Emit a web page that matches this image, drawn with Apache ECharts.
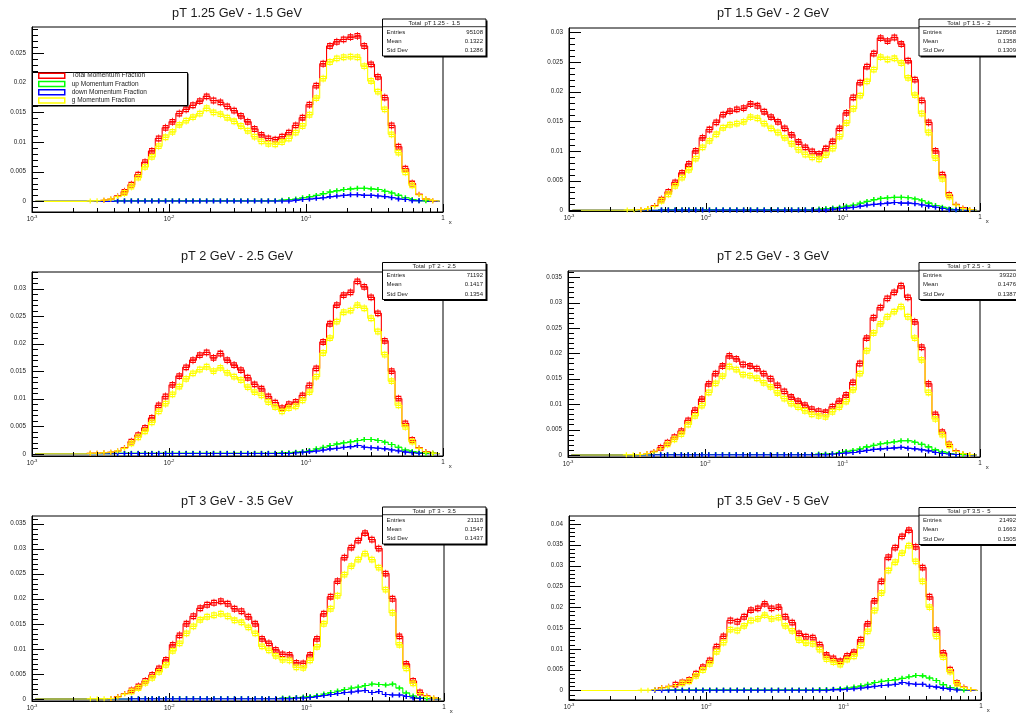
<!DOCTYPE html>
<html><head><meta charset="utf-8">
<script src="https://cdn.jsdelivr.net/npm/echarts@6/dist/echarts.min.js"></script>
<style>html,body{margin:0;padding:0;background:#fff}#c{width:1016px;height:715px}</style>
</head><body><div id="c"></div>
<script>
// ---------------- data ----------------
const NBINS = 60, XMIN = 0.001, XMAX = 1;
const seriesNames = ['Total Momentum Fraction', 'up Momentum Fraction', 'down Momentum Fraction', 'g Momentum Fraction'];
const titles = ['pT 1.25 GeV - 1.5 GeV', 'pT 1.5 GeV - 2 GeV', 'pT 2 GeV - 2.5 GeV', 'pT 2.5 GeV - 3 GeV', 'pT 3 GeV - 3.5 GeV', 'pT 3.5 GeV - 5 GeV'];
const statTitles = ['Total  pT 1.25 -  1.5', 'Total  pT 1.5 -  2', 'Total  pT 2 -  2.5', 'Total  pT 2.5 -  3', 'Total  pT 3 -  3.5', 'Total  pT 3.5 -  5'];
const entries = ['95108', '128568', '71192', '39320', '21118', '21492'];
const means = ['0.1322', '0.1358', '0.1417', '0.1476', '0.1547', '0.1663'];
const stdDevs = ['0.1286', '0.1309', '0.1354', '0.1387', '0.1437', '0.1505'];
const yTicks1 = [0, 0.005, 0.01, 0.015, 0.02, 0.025];
const yTicks2 = [0, 0.005, 0.01, 0.015, 0.02, 0.025, 0.03];
const yTicks3 = [0, 0.005, 0.01, 0.015, 0.02, 0.025, 0.03];
const yTicks4 = [0, 0.005, 0.01, 0.015, 0.02, 0.025, 0.03, 0.035];
const yTicks5 = [0, 0.005, 0.01, 0.015, 0.02, 0.025, 0.03, 0.035];
const yTicks6 = [0, 0.005, 0.01, 0.015, 0.02, 0.025, 0.03, 0.035, 0.04];

const total1 = [0,0,0,0,0,0,0,0,0,0,
 .0002,.0004,.0009,.0016,.0028,.0045,.0066,.0085,.0106,.0124,
 .0134,.0148,.0155,.0162,.0169,.0177,.0170,.0167,.0160,.0153,
 .0144,.0134,.0122,.0112,.0106,.0104,.0109,.0116,.0128,.0141,
 .0163,.0195,.0232,.0262,.0269,.0273,.0277,.0279,.0262,.0231,
 .0210,.0175,.0128,.0092,.0055,.0030,.0012,.0004,.0001,0];
const g1 = [0,0,0,0,0,0,0,0,.00005,.0001,
 .0002,.0004,.0008,.0014,.0025,.0040,.0058,.0075,.0093,.0108,
 .0117,.0129,.0136,.0142,.0148,.0157,.0150,.0147,.0141,.0135,
 .0127,.0119,.0109,.0101,.0097,.0096,.0100,.0106,.0116,.0127,
 .0146,.0174,.0207,.0235,.0241,.0243,.0244,.0243,.0228,.0203,
 .0185,.0155,.0113,.0082,.0049,.0027,.0011,.0004,.0001,0];
const up1 = [0,0,0,0,0,0,0,0,0,0,
 0,0,.0001,.0001,.0001,.0001,.0001,.0001,.0001,.0001,
 .0001,.0001,.0001,.0001,.0001,.0001,.0001,.0001,.0001,.0001,
 .0001,.0001,.0001,.0001,.0001,.0001,.0002,.0003,.0004,.0006,
 .0008,.0010,.0013,.0016,.0018,.0020,.0021,.0022,.0022,.0021,
 .0020,.0017,.0014,.0010,.0006,.0003,.0001,.0001,0,0];
const down1 = [0,0,0,0,0,0,0,0,0,0,
 0,0,.00005,.00005,.00005,.00005,.00005,.00005,.00005,.00005,
 .00005,.00005,.00005,.00005,.00005,.00005,.00005,.00005,.00005,.00005,
 .00005,.00005,.00005,.00005,.00005,.00005,.00005,.00005,.0002,.0003,
 .0004,.0005,.0006,.0008,.0009,.0010,.0011,.0011,.0010,.0010,
 .0009,.0008,.0006,.0004,.0003,.0001,.0001,0,0,0];

const total2 = [0,0,0,0,0,0,0,0,0,0,
 .0001,.0003,.0008,.0018,.0031,.0047,.0063,.0078,.0100,.0122,
 .0136,.0148,.0161,.0167,.0170,.0172,.0179,.0176,.0166,.0157,
 .0149,.0138,.0127,.0115,.0106,.0099,.0095,.0104,.0116,.0138,
 .0164,.0190,.0215,.0242,.0264,.0290,.0285,.0291,.0280,.0252,
 .0220,.0185,.0148,.0100,.0060,.0026,.0010,.0004,.0001,0];
const g2 = [0,0,0,0,0,0,0,0,.00005,.00005,
 .0001,.0003,.0007,.0016,.0027,.0041,.0055,.0068,.0087,.0106,
 .0117,.0128,.0139,.0144,.0146,.0149,.0157,.0155,.0146,.0138,
 .0131,.0122,.0112,.0102,.0094,.0089,.0086,.0093,.0104,.0124,
 .0147,.0171,.0193,.0217,.0237,.0258,.0254,.0256,.0248,.0223,
 .0194,.0163,.0131,.0088,.0053,.0023,.0009,.0003,.0001,0];
const up2 = [0,0,0,0,0,0,0,0,0,0,
 0,0,0,.0001,.0001,.0001,.0001,.0001,.0001,.0001,
 .0001,.0001,.0001,.0001,.0001,.0001,.0001,.0001,.0001,.0001,
 .0001,.0001,.0001,.0001,.0001,.0001,.0002,.0003,.0004,.0005,
 .0007,.0009,.0012,.0015,.0018,.0020,.0021,.0022,.0022,.0021,
 .0019,.0016,.0012,.0008,.0005,.0002,.0001,0,0,0];
const down2 = [0,0,0,0,0,0,0,0,0,0,
 0,0,0,.00005,.00005,.00005,.00005,.00005,.00005,.00005,
 .00005,.00005,.00005,.00005,.00005,.00005,.00005,.00005,.00005,.00005,
 .00005,.00005,.00005,.00005,.00005,.00005,.00005,.00005,.0002,.0003,
 .0004,.0005,.0007,.0009,.0010,.0011,.0012,.0013,.0012,.0012,
 .0011,.0009,.0007,.0005,.0003,.0001,.0001,0,0,0];

const total3 = [0,0,0,0,0,0,0,0,.0001,.0001,
 .0002,.0003,.0005,.0011,.0022,.0034,.0047,.0065,.0088,.0104,
 .0125,.0141,.0157,.0170,.0179,.0184,.0174,.0182,.0170,.0161,
 .0152,.0138,.0126,.0118,.0104,.0093,.0083,.0090,.0094,.0106,
 .0124,.0155,.0203,.0236,.0270,.0288,.0293,.0313,.0303,.0284,
 .0255,.0205,.0150,.0100,.0055,.0025,.0011,.0004,.0001,0];
const g3 = [0,0,0,0,0,0,0,0,.0001,.0001,
 .0002,.0003,.0005,.0010,.0019,.0030,.0041,.0057,.0077,.0091,
 .0108,.0122,.0136,.0146,.0153,.0158,.0150,.0156,.0147,.0140,
 .0134,.0121,.0112,.0106,.0094,.0085,.0077,.0083,.0086,.0097,
 .0112,.0140,.0183,.0210,.0240,.0257,.0260,.0270,.0264,.0246,
 .0222,.0180,.0132,.0088,.0049,.0022,.0010,.0003,.0001,0];
const up3 = [0,0,0,0,0,0,0,0,0,0,
 0,0,.0001,.0001,.0001,.0001,.0001,.0001,.0001,.0001,
 .0001,.0001,.0001,.0001,.0001,.0001,.0001,.0001,.0001,.0001,
 .0001,.0001,.0001,.0001,.0001,.0001,.0002,.0002,.0003,.0004,
 .0006,.0009,.0012,.0015,.0018,.0020,.0022,.0024,.0026,.0026,
 .0024,.0021,.0017,.0012,.0007,.0004,.0002,.0001,.0001,0];
const down3 = [0,0,0,0,0,0,0,0,0,0,
 0,0,.00005,.00005,.00005,.00005,.00005,.00005,.00005,.00005,
 .00005,.00005,.00005,.00005,.00005,.00005,.00005,.00005,.00005,.00005,
 .00005,.00005,.00005,.00005,.00005,.00005,.00005,.00005,.0002,.0003,
 .0004,.0005,.0007,.0009,.0010,.0012,.0013,.0015,.0012,.0011,
 .0010,.0009,.0007,.0005,.0003,.0002,.0001,0,0,0];

const total4 = [0,0,0,0,0,0,0,0,0,0,
 .0001,.0003,.0007,.0014,.0024,.0035,.0047,.0068,.0088,.0110,
 .0140,.0160,.0175,.0195,.0189,.0178,.0175,.0170,.0160,.0150,
 .0137,.0125,.0114,.0106,.0098,.0090,.0086,.0084,.0095,.0106,
 .0118,.0143,.0180,.0230,.0270,.0290,.0308,.0320,.0333,.0310,
 .0262,.0212,.0140,.0080,.0045,.0021,.0008,.0003,.0001,0];
const g4 = [0,0,0,0,0,0,0,0,.00005,.00005,
 .0001,.0003,.0006,.0012,.0021,.0031,.0041,.0060,.0077,.0097,
 .0123,.0141,.0155,.0174,.0168,.0158,.0156,.0151,.0142,.0134,
 .0122,.0111,.0101,.0094,.0087,.0080,.0077,.0075,.0085,.0094,
 .0105,.0128,.0160,.0205,.0240,.0258,.0272,.0282,.0292,.0272,
 .0230,.0187,.0123,.0071,.0040,.0019,.0007,.0003,.0001,0];
const up4 = [0,0,0,0,0,0,0,0,0,0,
 0,0,.0001,.0001,.0001,.0001,.0001,.0001,.0001,.0001,
 .0001,.0001,.0001,.0001,.0001,.0001,.0001,.0001,.0001,.0001,
 .0001,.0001,.0001,.0001,.0001,.0001,.0002,.0002,.0003,.0005,
 .0007,.0009,.0012,.0016,.0019,.0022,.0024,.0026,.0028,.0028,
 .0025,.0021,.0016,.0010,.0006,.0003,.0001,.0001,0,0];
const down4 = [0,0,0,0,0,0,0,0,0,0,
 0,0,.00005,.00005,.00005,.00005,.00005,.00005,.00005,.00005,
 .00005,.00005,.00005,.00005,.00005,.00005,.00005,.00005,.00005,.00005,
 .00005,.00005,.00005,.00005,.00005,.00005,.00005,.00005,.0002,.0003,
 .0004,.0005,.0007,.0009,.0011,.0012,.0013,.0014,.0015,.0013,
 .0012,.0010,.0008,.0005,.0003,.0002,.0001,0,0,0];

const total5 = [0,0,0,0,0,0,0,0,0,0,
 0,.0001,.0005,.0011,.0017,.0025,.0036,.0048,.0061,.0078,
 .0108,.0127,.0150,.0165,.0181,.0188,.0192,.0195,.0190,.0180,
 .0175,.0164,.0150,.0120,.0111,.0098,.0089,.0088,.0072,.0071,
 .0088,.0120,.0170,.0204,.0235,.0282,.0302,.0316,.0331,.0318,
 .0300,.0250,.0200,.0125,.0070,.0036,.0013,.0006,.0002,0];
const g5 = [0,0,0,0,0,0,0,0,.00005,.00005,
 .00005,.0001,.0004,.0010,.0015,.0022,.0032,.0042,.0054,.0068,
 .0096,.0111,.0131,.0145,.0158,.0164,.0167,.0170,.0165,.0157,
 .0153,.0143,.0131,.0105,.0097,.0086,.0078,.0077,.0063,.0062,
 .0077,.0104,.0150,.0180,.0206,.0248,.0265,.0278,.0290,.0278,
 .0262,.0218,.0172,.0108,.0061,.0031,.0011,.0005,.0002,0];
const up5 = [0,0,0,0,0,0,0,0,0,0,
 0,0,0,0,.0001,.0001,.0001,.0001,.0001,.0001,
 .0001,.0001,.0001,.0001,.0001,.0001,.0001,.0001,.0001,.0001,
 .0001,.0001,.0001,.0001,.0001,.0001,.0002,.0002,.0003,.0004,
 .0005,.0007,.0010,.0013,.0016,.0019,.0022,.0024,.0027,.0030,
 .0029,.0028,.0030,.0022,.0012,.0006,.0002,.0001,0,0];
const down5 = [0,0,0,0,0,0,0,0,0,0,
 0,0,0,0,.00005,.00005,.00005,.00005,.00005,.00005,
 .00005,.00005,.00005,.00005,.00005,.00005,.00005,.00005,.00005,.00005,
 .00005,.00005,.00005,.00005,.00005,.00005,.00005,.00005,.0002,.0002,
 .0003,.0005,.0007,.0009,.0011,.0013,.0014,.0016,.0017,.0013,
 .0015,.0009,.0008,.0008,.0005,.0002,.0001,0,0,0];

const total6 = [0,0,0,0,0,0,0,0,0,0,
 0,0,.0002,.0007,.0010,.0014,.0019,.0025,.0040,.0056,
 .0072,.0105,.0130,.0168,.0165,.0177,.0193,.0197,.0208,.0197,
 .0200,.0177,.0163,.0137,.0129,.0127,.0110,.0085,.0077,.0070,
 .0083,.0092,.0122,.0160,.0215,.0262,.0320,.0343,.0370,.0385,
 .0345,.0295,.0225,.0145,.0090,.0050,.0018,.0008,.0002,0];
const g6 = [0,0,0,0,0,0,0,0,0,0,
 .00005,.00005,.0002,.0006,.0009,.0012,.0017,.0022,.0035,.0049,
 .0064,.0093,.0115,.0146,.0144,.0155,.0168,.0172,.0181,.0172,
 .0175,.0155,.0143,.0121,.0114,.0112,.0098,.0075,.0068,.0062,
 .0074,.0082,.0108,.0142,.0192,.0234,.0288,.0308,.0330,.0348,
 .0310,.0262,.0200,.0130,.0080,.0045,.0016,.0007,.0002,0];
const up6 = [0,0,0,0,0,0,0,0,0,0,
 0,0,0,0,.0001,.0001,.0001,.0001,.0001,.0001,
 .0001,.0001,.0001,.0001,.0001,.0001,.0001,.0001,.0001,.0001,
 .0001,.0001,.0001,.0001,.0001,.0001,.0002,.0002,.0003,.0004,
 .0006,.0008,.0011,.0015,.0019,.0022,.0024,.0026,.0029,.0033,
 .0036,.0035,.0030,.0024,.0014,.0007,.0003,.0001,0,0];
const down6 = [0,0,0,0,0,0,0,0,0,0,
 0,0,.00005,.00005,.00005,.00005,.00005,.00005,.00005,.00005,
 .00005,.00005,.00005,.00005,.00005,.00005,.00005,.00005,.00005,.00005,
 .00005,.00005,.00005,.00005,.00005,.00005,.00005,.00005,.0002,.0002,
 .0003,.0004,.0006,.0008,.0010,.0012,.0013,.0015,.0019,.0016,
 .0015,.0015,.0010,.0008,.0005,.0003,.0001,0,0,0];

// ---------------- layout ----------------
const totals = [total1, total2, total3, total4, total5, total6];
const gs = [g1, g2, g3, g4, g5, g6];
const ups = [up1, up2, up3, up4, up5, up6];
const downs = [down1, down2, down3, down4, down5, down6];
const yTickLabels = [yTicks1, yTicks2, yTicks3, yTicks4, yTicks5, yTicks6];

const gridRects = [
  {left: 32, top: 27, width: 411, height: 185},
  {left: 569, top: 28, width: 411, height: 183},
  {left: 32, top: 272, width: 411, height: 184},
  {left: 568, top: 271, width: 412, height: 186},
  {left: 32, top: 516, width: 412, height: 185},
  {left: 569, top: 516, width: 412, height: 184}
];
const yRanges = [[-0.0018, 0.0294], [-0.00012, 0.0307], [-0.0004, 0.0330], [-0.0004, 0.0362], [-0.0004, 0.0365], [-0.0023, 0.0419]];
const titlePos = [[237, 13], [773, 13], [237, 256], [773, 256], [237, 501], [773, 501]];
const statPos = [[382.5, 19, 103.5], [919, 19, 100], [382.5, 262.5, 103.5], [919, 262.5, 100], [382.5, 507, 103.5], [919, 507.5, 100]];

const FONT = '"Liberation Sans", Arial, Helvetica, sans-serif';
const colors = {total: '#ff0000', up: '#00ff00', down: '#0000ff', g: '#ffff00'};
const CROSS = 'path://M0,5L10,5M5,0L5,10';
const BOXMARK = 'path://M0,3H8V11H0ZM4,0V14M0,7H8';

const binCenters = [];
for (let i = 0; i < NBINS; i++) binCenters.push(Math.pow(10, Math.log10(XMIN) + (Math.log10(XMAX) - Math.log10(XMIN)) * (i + 0.5) / NBINS));
const xMinor = [];
[0.001, 0.01, 0.1].forEach(d => { for (let m = 2; m <= 9; m++) xMinor.push(m * d); });

function histSeries(name, vals, gi, color, kind) {
  return {
    name, type: 'line', xAxisIndex: gi, yAxisIndex: gi, step: 'middle',
    data: vals.map((v, i) => [binCenters[i], v]),
    symbol: (val) => (val[1] > 0 ? (kind === 'sq' ? (val[1] > 0.0012 ? BOXMARK : CROSS) : CROSS) : 'none'),
    symbolSize: (val) => (kind === 'sq' && val[1] > 0.0012 ? [5, 8] : [7, 5]),
    itemStyle: {color: 'rgba(0,0,0,0)', borderColor: color, borderWidth: kind === 'sq' ? 1 : 1.3},
    lineStyle: {color, width: 1.1},
    emphasis: {disabled: true}, silent: true, animation: false, clip: true
  };
}

const grid = [], xAxis = [], yAxis = [], series = [], title = [], graphic = [];
for (let k = 0; k < 6; k++) {
  const r = gridRects[k];
  const [ymin, ymax] = yRanges[k];
  grid.push(Object.assign({show: true, borderColor: '#000', borderWidth: 1, backgroundColor: 'transparent', containLabel: false}, r));
  xAxis.push({
    type: 'log', logBase: 10, gridIndex: k, min: XMIN, max: XMAX,
    axisLine: {show: true, onZero: false, lineStyle: {color: '#000', width: 1}},
    axisTick: {show: true, inside: true, length: 8, lineStyle: {color: '#000', width: 1}},
    splitLine: {show: false}, minorTick: {show: false},
    axisLabel: {
      margin: 3, color: '#222', fontFamily: FONT, fontSize: 6.3,
      formatter: v => (Math.abs(v - 1) < 1e-9 ? '{b|1}' : '{b|10}{s|' + Math.round(Math.log10(v)) + '}'),
      rich: {b: {fontSize: 6.3, color: '#222', fontFamily: FONT}, s: {fontSize: 4.2, color: '#222', fontFamily: FONT, verticalAlign: 'top', padding: [0, 0, 4, 0]}}
    },
    name: 'x', nameLocation: 'end', nameGap: -3,
    nameTextStyle: {fontSize: 6, color: '#222', fontFamily: FONT, align: 'right', verticalAlign: 'top', padding: [7, 0, 0, 0]}
  });
  yAxis.push({
    type: 'value', gridIndex: k, min: ymin, max: ymax,
    axisLine: {show: true, onZero: false, lineStyle: {color: '#000', width: 1}},
    axisTick: {show: false}, splitLine: {show: false},
    axisLabel: {
      customValues: yTickLabels[k],
      margin: 6, color: '#222', fontFamily: FONT, fontSize: 6.3,
      formatter: v => String(+(+v).toFixed(4))
    }
  });
  series.push(histSeries(seriesNames[0], totals[k], k, colors.total, 'sq'));
  series.push(histSeries(seriesNames[1], ups[k], k, colors.up, 'cross'));
  series.push(histSeries(seriesNames[2], downs[k], k, colors.down, 'cross'));
  series.push(histSeries(seriesNames[3], gs[k], k, colors.g, 'sq'));

  // y ticks (major every 0.005, minor every 0.001), drawn through the axis scale
  const yt = [];
  for (let j = Math.ceil(ymin / 0.001 - 1e-9); j * 0.001 <= ymax + 1e-9; j++) yt.push([XMIN, j * 0.001, j % 5 === 0 ? 1 : 0]);
  series.push({
    type: 'custom', xAxisIndex: k, yAxisIndex: k, silent: true, clip: false, animation: false, z: 5,
    data: yt,
    renderItem: (params, api) => {
      const p = api.coord([api.value(0), api.value(1)]);
      const len = api.value(2) ? 12 : 6;
      const y = Math.round(p[1]) + 0.5;
      return {type: 'line', shape: {x1: p[0], y1: y, x2: p[0] + len, y2: y}, style: {stroke: '#000', lineWidth: 1}};
    }
  });
  // x minor log ticks
  series.push({
    type: 'custom', xAxisIndex: k, yAxisIndex: k, silent: true, clip: false, animation: false, z: 5,
    data: xMinor.map(v => [v, ymin]),
    renderItem: (params, api) => {
      const p = api.coord([api.value(0), api.value(1)]);
      const x = Math.round(p[0]) + 0.5;
      return {type: 'line', shape: {x1: x, y1: p[1], x2: x, y2: p[1] - 4}, style: {stroke: '#000', lineWidth: 1}};
    }
  });

  title.push({
    text: titles[k], left: titlePos[k][0], top: titlePos[k][1], textAlign: 'center', textVerticalAlign: 'middle', padding: 0,
    textStyle: {fontSize: 12.7, fontWeight: 'normal', color: '#1a1a1a', fontFamily: FONT}
  });

  // statistics box
  const [sx, sy, sw] = statPos[k];
  const sh = 37;
  graphic.push(
    {type: 'rect', z: 100, shape: {x: sx + 1.5, y: sy + 1.5, width: sw, height: sh}, style: {fill: '#000'}},
    {type: 'rect', z: 101, shape: {x: sx, y: sy, width: sw, height: sh}, style: {fill: '#fff', stroke: '#000', lineWidth: 1}},
    {type: 'line', z: 102, shape: {x1: sx, y1: sy + 7.7, x2: sx + sw, y2: sy + 7.7}, style: {stroke: '#000', lineWidth: 0.8}},
    {type: 'text', z: 102, x: sx + sw / 2, y: sy + 4, style: {text: statTitles[k], fill: '#222', font: '6px ' + FONT, align: 'center', verticalAlign: 'middle'}},
    {type: 'text', z: 102, x: sx + 4, y: sy + 13.3, style: {text: 'Entries', fill: '#222', font: '6px ' + FONT, align: 'left', verticalAlign: 'middle'}},
    {type: 'text', z: 102, x: sx + sw - 3, y: sy + 13.3, style: {text: entries[k], fill: '#222', font: '6px ' + FONT, align: 'right', verticalAlign: 'middle'}},
    {type: 'text', z: 102, x: sx + 4, y: sy + 22.3, style: {text: 'Mean', fill: '#222', font: '6px ' + FONT, align: 'left', verticalAlign: 'middle'}},
    {type: 'text', z: 102, x: sx + sw - 3, y: sy + 22.3, style: {text: means[k], fill: '#222', font: '6px ' + FONT, align: 'right', verticalAlign: 'middle'}},
    {type: 'text', z: 102, x: sx + 4, y: sy + 31.5, style: {text: 'Std Dev', fill: '#222', font: '6px ' + FONT, align: 'left', verticalAlign: 'middle'}},
    {type: 'text', z: 102, x: sx + sw - 3, y: sy + 31.5, style: {text: stdDevs[k], fill: '#222', font: '6px ' + FONT, align: 'right', verticalAlign: 'middle'}}
  );
}
// legend frame (panel 1)
graphic.push(
  {type: 'rect', z: 99, shape: {x: 33.5, y: 73.5, width: 155, height: 33}, style: {fill: '#000'}},
  {type: 'rect', z: 99.5, shape: {x: 32.5, y: 72.5, width: 155, height: 33}, style: {fill: '#fff', stroke: '#000', lineWidth: 1}}
);

const option = {
  backgroundColor: '#fff', animation: false,
  textStyle: {fontFamily: FONT},
  title, grid, xAxis, yAxis, series,
  graphic: {elements: graphic},
  legend: {
    orient: 'vertical', left: 38, top: 71.7, padding: 0, itemWidth: 26, itemHeight: 5, itemGap: 0.3,
    icon: 'rect', selectedMode: false, z: 120, zlevel: 0,
    textStyle: {fontSize: 6.5, color: '#222', fontFamily: FONT, lineHeight: 8, padding: [0, 0, 0, 2]},
    data: [
      {name: seriesNames[0], itemStyle: {color: '#fff', borderColor: colors.total, borderWidth: 1.5}},
      {name: seriesNames[1], itemStyle: {color: '#fff', borderColor: colors.up, borderWidth: 1.5}},
      {name: seriesNames[2], itemStyle: {color: '#fff', borderColor: colors.down, borderWidth: 1.5}},
      {name: seriesNames[3], itemStyle: {color: '#fff', borderColor: colors.g, borderWidth: 1.5}}
    ]
  }
};
const chart = echarts.init(document.getElementById('c'), null, {renderer: 'canvas'});
chart.setOption(option);
</script>
</body></html>
